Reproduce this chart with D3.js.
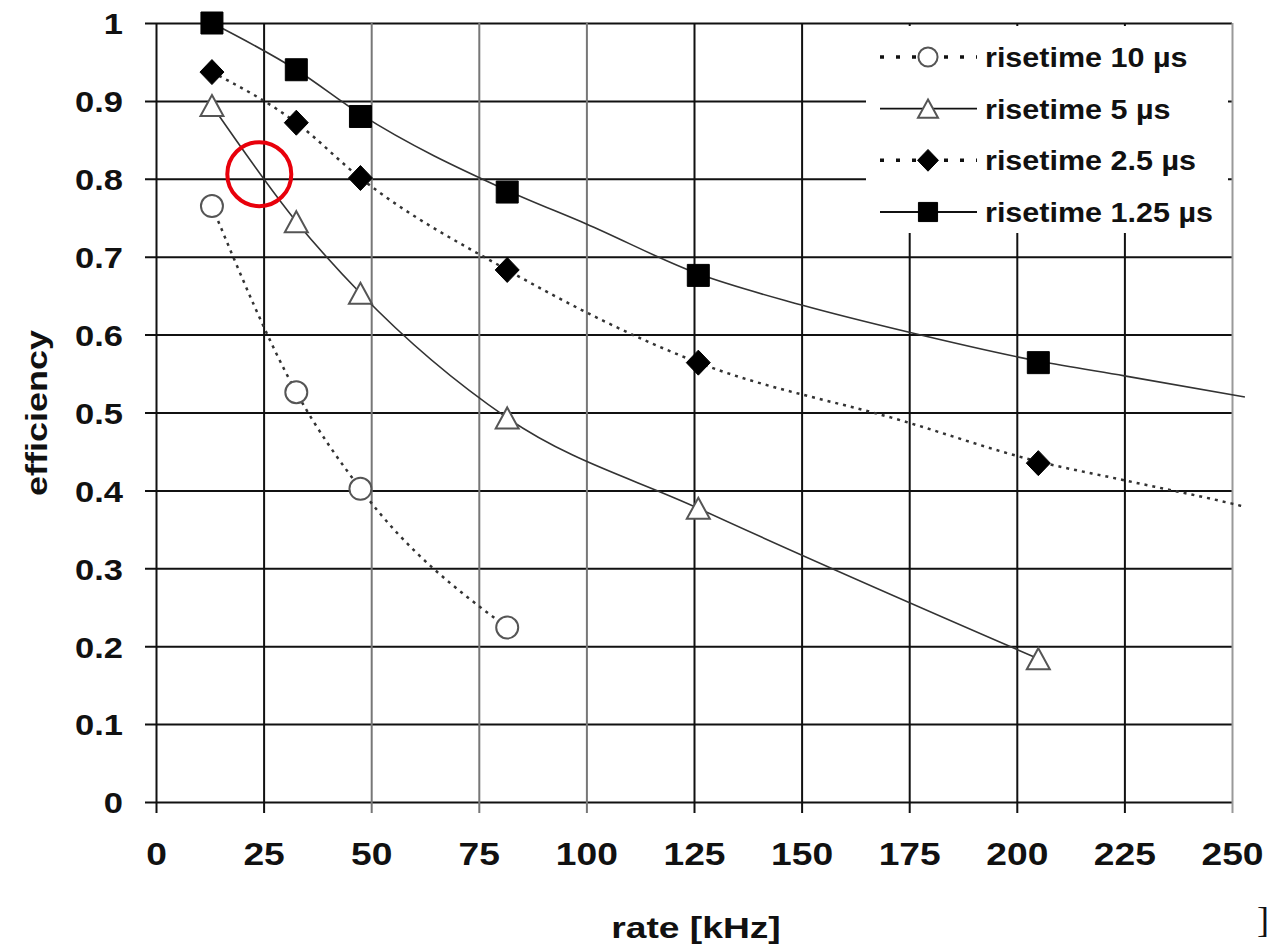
<!DOCTYPE html>
<html>
<head>
<meta charset="utf-8">
<script src="https://cdn.jsdelivr.net/npm/d3@7/dist/d3.min.js"></script>
<style>
  body { margin: 0; background: #fff; }
  text { font-family: "Liberation Sans", Arial, sans-serif; font-weight: bold; fill: #111; }
</style>
</head>
<body>
<svg id="chart" width="1268" height="950"></svg>
<script>
// measured points
const rates = [13, 32.6, 47.5, 81.6, 126, 205];
const eff10 = [0.765, 0.526, 0.402, 0.224];
const eff5 = [0.894, 0.745, 0.653, 0.493, 0.377, 0.184];
const eff25 = [0.937, 0.872, 0.801, 0.683, 0.564, 0.435];
const eff125 = [1.0, 0.94, 0.88, 0.783, 0.676, 0.564];

// trend curves as they appear in the picture (they run past the last point)
const trend25Rate = [13, 32.6, 47.5, 81.6, 126, 173, 205, 225, 250, 253];
const trend25Eff = [0.937, 0.872, 0.801, 0.683, 0.564, 0.49, 0.437, 0.413, 0.383, 0.379];
const trend125Rate = [13, 32.6, 47.5, 81.6, 100, 126, 150, 175, 205, 225, 253];
const trend125Eff = [1.0, 0.94, 0.883, 0.785, 0.742, 0.678, 0.638, 0.603, 0.566, 0.547, 0.52];

const xTicks = [0, 25, 50, 75, 100, 125, 150, 175, 200, 225, 250];
const yTicks = [0, 0.1, 0.2, 0.3, 0.4, 0.5, 0.6, 0.7, 0.8, 0.9, 1];
const legendLabels = ["risetime 10 µs", "risetime 5 µs", "risetime 2.5 µs", "risetime 1.25 µs"];

// highlighted spot (red ring)
const markRate = 24, markEff = 0.806;

const svg = d3.select("#chart");
const plotL = 156, plotR = 1232, plotT = 23, plotB = 802;

const x = d3.scaleLinear().domain([0, 250]).range([plotL, plotR]);
const y = d3.scaleLinear().domain([0, 1]).range([plotB, plotT]);

// the source picture is a bit wide, so text gets pulled out horizontally
function stretch(sel, k) {
  sel.each(function () {
    const w = this.getComputedTextLength();
    d3.select(this).attr("textLength", w * k).attr("lengthAdjust", "spacingAndGlyphs");
  });
}

// horizontal grid + y labels
const gy = svg.append("g")
  .attr("transform", `translate(${plotL - 11},0)`)
  .call(d3.axisLeft(y).tickValues(yTicks).tickSize(-(plotR - plotL + 11)).tickPadding(22)
    .tickFormat(d => d === 0 || d === 1 ? d3.format("d")(d) : d3.format(".1f")(d)));
gy.select(".domain").remove();
gy.selectAll("line").attr("stroke", "#111").attr("stroke-width", 2);
gy.selectAll("text").attr("font-size", 30).attr("dy", "0.36em");
stretch(gy.selectAll("text"), 1.15);

// vertical grid + x labels
const gx = svg.append("g")
  .attr("transform", `translate(0,${plotB + 11})`)
  .call(d3.axisBottom(x).tickValues(xTicks).tickSize(-(plotB + 11 - plotT)).tickPadding(30));
gx.select(".domain").remove();
gx.selectAll("line")
  .attr("stroke", d => d === 250 ? "#999" : (d >= 50 && d <= 100 ? "#777" : "#111"))
  .attr("stroke-width", 2);
gx.selectAll("text").attr("font-size", 31);
stretch(gx.selectAll("text"), 1.2);

// axis titles
const yTitle = svg.append("text")
  .attr("transform", "translate(47,413) rotate(-90)")
  .attr("text-anchor", "middle")
  .attr("font-size", 30)
  .text("efficiency");
stretch(yTitle, 1.2);

const xTitle = svg.append("text")
  .attr("x", 696).attr("y", 938)
  .attr("text-anchor", "middle")
  .attr("font-size", 30)
  .text("rate [kHz]");
stretch(xTitle, 1.24);

// cut-off bracket at the lower right edge of the scan
svg.append("text")
  .attr("x", 1257).attr("y", 932)
  .style("font-family", "'Liberation Serif', 'Times New Roman', serif")
  .style("font-weight", "normal")
  .attr("font-size", 36)
  .text("]");

// lines
const line = d3.line().x(d => x(d[0])).y(d => y(d[1])).curve(d3.curveMonotoneX);
const lineLayer = svg.append("g").attr("fill", "none");

lineLayer.append("path")
  .attr("d", line(d3.zip(rates.slice(0, eff10.length), eff10)))
  .attr("stroke", "#333").attr("stroke-width", 2.5).attr("stroke-dasharray", "3,5");
lineLayer.append("path")
  .attr("d", line(d3.zip(rates, eff5)))
  .attr("stroke", "#333").attr("stroke-width", 1.6);
lineLayer.append("path")
  .attr("d", line(d3.zip(trend25Rate, trend25Eff)))
  .attr("stroke", "#333").attr("stroke-width", 2.5).attr("stroke-dasharray", "3,5");
lineLayer.append("path")
  .attr("d", line(d3.zip(trend125Rate, trend125Eff)))
  .attr("stroke", "#333").attr("stroke-width", 1.6);

// marker shapes
const shapes = {
  circle: s => `M${11 * s},0A${11 * s},${11 * s} 0 1,1 ${-11 * s},0A${11 * s},${11 * s} 0 1,1 ${11 * s},0Z`,
  triangle: s => `M0,${-10.5 * s}L${11.5 * s},${10.5 * s}L${-11.5 * s},${10.5 * s}Z`,
  diamond: s => `M0,${-12.5 * s}L${12 * s},0L0,${12.5 * s}L${-12 * s},0Z`,
  square: s => `M${-11 * s},${-11 * s}h${22 * s}v${22 * s}h${-22 * s}Z`
};
const styles = [
  { shape: "circle", fill: "#fff", stroke: "#555", dash: "3,5" },
  { shape: "triangle", fill: "#fff", stroke: "#555", dash: null },
  { shape: "diamond", fill: "#000", stroke: "#000", dash: "3,5" },
  { shape: "square", fill: "#000", stroke: "#000", dash: null }
];
const seriesVals = [eff10, eff5, eff25, eff125];

const markLayer = svg.append("g");
seriesVals.forEach((vals, i) => {
  const st = styles[i];
  markLayer.selectAll(null)
    .data(vals)
    .join("path")
    .attr("transform", (d, j) => `translate(${x(rates[j])},${y(d)})`)
    .attr("d", shapes[st.shape](1))
    .attr("fill", st.fill)
    .attr("stroke", st.stroke)
    .attr("stroke-width", st.fill === "#fff" ? 2 : 1);
});

// legend (white box hides grid behind it)
const legend = svg.append("g");
legend.append("rect")
  .attr("x", 866).attr("y", 26).attr("width", 362).attr("height", 207)
  .attr("fill", "#fff");
const rowY = d3.scalePoint().domain(d3.range(legendLabels.length)).range([57, 212]);
legendLabels.forEach((lab, i) => {
  const st = styles[i];
  const g = legend.append("g").attr("transform", `translate(0,${rowY(i)})`);
  g.append("line")
    .attr("x1", 880).attr("x2", 977)
    .attr("stroke", "#111").attr("stroke-width", st.dash ? 3.5 : 1.8)
    .attr("stroke-dasharray", st.dash ? "4,12" : null);
  g.append("path")
    .attr("transform", "translate(928,0)")
    .attr("d", shapes[st.shape](0.87))
    .attr("fill", st.fill)
    .attr("stroke", st.stroke)
    .attr("stroke-width", st.fill === "#fff" ? 2 : 1);
  const t = g.append("text")
    .attr("x", 985).attr("y", 10)
    .attr("font-size", 28)
    .text(lab);
  stretch(t, 1.09);
});

// red ring
svg.append("circle")
  .attr("cx", x(markRate)).attr("cy", y(markEff))
  .attr("r", 32)
  .attr("fill", "none")
  .attr("stroke", "#e8000b")
  .attr("stroke-width", 4);
</script>
</body>
</html>
